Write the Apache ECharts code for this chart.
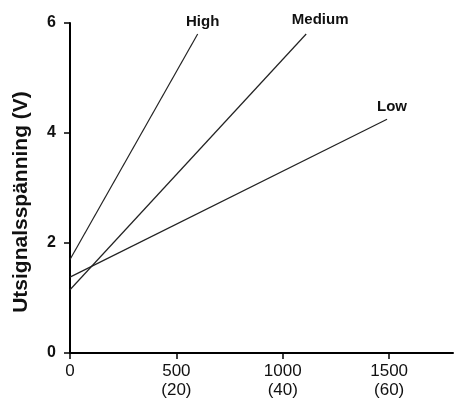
<!DOCTYPE html>
<html><head><meta charset="utf-8">
<script src="https://cdn.jsdelivr.net/npm/echarts@6/dist/echarts.min.js"></script>
<style>html,body{margin:0;padding:0;background:#fff}#c{width:454px;height:403px}</style>
</head><body><div id="c"></div>
<script>
const seriesNames = ['High', 'Medium', 'Low'];
const highData = [[0, 1.7], [600, 5.8]];
const mediumData = [[0, 1.15], [1110, 5.8]];
const lowData = [[0, 1.38], [1490, 4.25]];
const xTicks = [0, 500, 1000, 1500];
const xTickSub = ['', '(20)', '(40)', '(60)'];
const yTicks = [0, 2, 4, 6];
const yTitle = 'Utsignalsspänning (V)';

const labelOffsets = [[5, 0], [14, -2], [5, 0]];
const all = [highData, mediumData, lowData];
const FONT = 'Liberation Sans, Arial, sans-serif';

const chart = echarts.init(document.getElementById('c'), null, {renderer: 'canvas'});
chart.setOption({
  animation: false,
  backgroundColor: '#fff',
  grid: {left: 70, top: 23, right: 1, bottom: 50, containLabel: false},
  xAxis: {
    type: 'value', min: 0, max: 1800,
    splitLine: {show: false},
    axisLine: {lineStyle: {color: '#000', width: 2}},
    axisTick: {show: true, length: 6, customValues: xTicks, lineStyle: {color: '#000', width: 1.5}},
    axisLabel: {
      customValues: xTicks, margin: 9, color: '#111', fontSize: 17,
      fontFamily: FONT, lineHeight: 19,
      formatter: function (v) {
        const i = xTicks.indexOf(v);
        return xTickSub[i] ? v + '\n' + xTickSub[i] : String(v);
      }
    }
  },
  yAxis: {
    type: 'value', min: 0, max: 6, interval: 2,
    splitLine: {show: false},
    axisLine: {show: true, lineStyle: {color: '#000', width: 2}},
    axisTick: {show: true, length: 6, customValues: yTicks, lineStyle: {color: '#000', width: 1.5}},
    axisLabel: {customValues: yTicks, margin: 14, color: '#111', fontSize: 16, fontWeight: 'bold', fontFamily: FONT},
    name: yTitle, nameLocation: 'middle', nameGap: 38, nameRotate: 90,
    nameTextStyle: {fontSize: 21, fontWeight: 'bold', color: '#111', fontFamily: FONT, padding: [0, 28, 0, 0]}
  },
  series: seriesNames.map(function (n, k) {
    const last = all[k].length - 1;
    return {
      name: n, type: 'line', data: all[k], symbol: 'circle', symbolSize: 0.1, showSymbol: true,
      itemStyle: {color: '#222'},
      lineStyle: {color: '#222', width: 1.2},
      label: {show: true, position: 'top', offset: labelOffsets[k],
        formatter: function (p) { return p.dataIndex === last ? n : ''; },
        color: '#111', fontSize: 15, fontWeight: 'bold', fontFamily: FONT}
    };
  })
});
</script></body></html>
